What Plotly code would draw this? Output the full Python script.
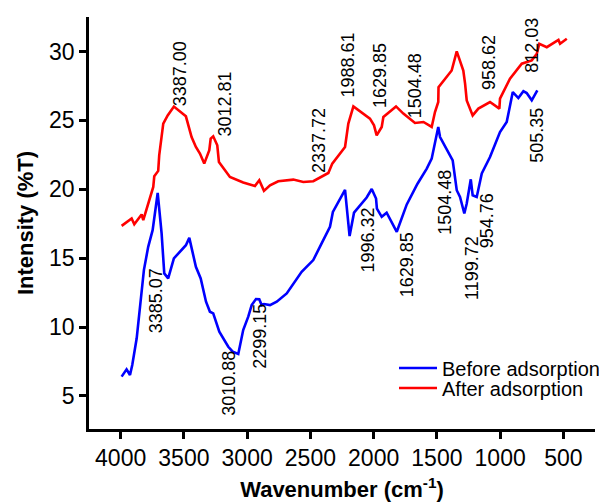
import plotly.graph_objects as go

# Before adsorption (blue)
before_x = [3992, 3953, 3926, 3908, 3873, 3847, 3816, 3782, 3747, 3707, 3676, 3655, 3624, 3579,
            3518, 3484, 3457, 3405, 3367, 3325, 3294, 3268, 3220, 3149, 3114, 3070, 3031, 2991,
            2964, 2930, 2904, 2885, 2867, 2819, 2766, 2687, 2569, 2477, 2411, 2345, 2322, 2226,
            2190, 2155, 2055, 2015, 1981, 1974, 1936, 1897, 1817, 1738, 1653, 1580, 1541, 1489,
            1475, 1422, 1375, 1343, 1317, 1283, 1264, 1232, 1217, 1185, 1145, 1080, 1006, 1001,
            948, 900, 856, 816, 790, 750, 706]
before_y = [6.40, 6.93, 6.52, 7.25, 9.18, 11.23, 14.13, 15.82, 17.03, 19.73, 16.79, 13.89, 13.53, 14.98,
            15.58, 15.94, 16.47, 14.37, 13.53, 11.84, 11.11, 10.99, 9.66, 8.57, 8.21, 8.04, 9.78, 10.75,
            11.59, 12.03, 12.01, 11.59, 11.67, 11.59, 11.84, 12.44, 14.01, 14.86, 16.07, 17.27, 18.35, 19.95,
            16.60, 18.30, 19.40, 20.02, 19.33, 18.60, 18.00, 18.30, 16.91, 18.90, 20.40, 21.50, 22.22, 24.52,
            23.79, 22.95, 22.10, 19.93, 19.44, 18.24, 18.96, 20.72, 19.56, 19.44, 21.14, 22.34, 23.91, 24.15,
            24.88, 27.05, 26.62, 27.12, 26.98, 26.45, 27.17]

# After adsorption (red)
after_x = [3992, 3913, 3892, 3834, 3821, 3768, 3742, 3734, 3703, 3695, 3681, 3663, 3628, 3579,
           3484, 3439, 3405, 3373, 3339, 3299, 3288, 3268, 3236, 3223, 3175, 3136, 3031, 2938,
           2904, 2867, 2819, 2754, 2635, 2556, 2477, 2358, 2327, 2226, 2200, 2160, 2029, 1997,
           1976, 1936, 1923, 1823, 1765, 1673, 1606, 1541, 1515, 1489, 1487, 1436, 1383, 1343,
           1291, 1277, 1264, 1217, 1172, 1080, 1006, 1001, 922, 829, 750, 710, 690, 631, 539,
           526, 473]
after_y = [17.34, 17.88, 17.46, 18.17, 17.75, 19.44, 20.17, 20.94, 21.33, 22.46, 23.31, 24.76, 25.36, 26.00,
           25.29, 23.79, 23.07, 22.59, 21.86, 22.83, 23.67, 23.84, 23.19, 21.98, 21.38, 20.89, 20.49, 20.24,
           20.65, 19.88, 20.29, 20.58, 20.70, 20.53, 20.58, 21.18, 21.86, 23.07, 24.76, 26.01, 25.12, 24.64,
           23.91, 24.52, 25.24, 26.01, 25.49, 24.81, 24.88, 24.52, 25.60, 26.33, 27.41, 28.02, 28.62, 30.00,
           28.62, 27.66, 26.45, 25.36, 25.85, 26.33, 25.85, 26.57, 28.02, 29.11, 29.35, 29.83, 30.56, 30.31, 30.84,
           30.56, 30.92]

# Peak labels for the red curve (placed above)
after_label_x = [3533, 3175, 2432, 2200, 1950, 1673, 1088, 744]
after_label_y = [25.96, 23.79, 21.14, 26.57, 25.85, 25.12, 27.17, 28.38]
after_label_text = ["3387.00", "3012.81", "2337.72", "1988.61", "1629.85", "1504.48", "958.62", "812.03"]

# Peak labels for the blue curve (placed below)
before_label_x = [3723, 3149, 2898, 2044, 1736, 1438, 1224, 1106, 708]
before_label_y = [14.35, 8.33, 11.72, 18.72, 16.91, 21.50, 16.67, 19.80, 25.96]
before_label_text = ["3385.07", "3010.88", "2299.15", "1996.32", "1629.85", "1504.48", "1199.72", "954.76", "505.35"]

x_ticks = [4000, 3500, 3000, 2500, 2000, 1500, 1000, 500]
y_ticks = [5, 10, 15, 20, 25, 30]

FONT = "Arial, Liberation Sans, sans-serif"

fig = go.Figure()
fig.add_trace(go.Scatter(x=before_x, y=before_y, mode="lines", name="Before adsorption",
                         line=dict(color="#0000FF", width=2.6), legend="legend"))
fig.add_trace(go.Scatter(x=after_x, y=after_y, mode="lines", name="After adsorption",
                         line=dict(color="#FF0000", width=2.6), legend="legend2"))

annotations = []
for x, y, t in zip(after_label_x, after_label_y, after_label_text):
    annotations.append(dict(x=x, y=y, text=t, showarrow=False, textangle=-90,
                            xanchor="center", yanchor="bottom", borderpad=0,
                            font=dict(family=FONT, size=18, color="black")))
for x, y, t in zip(before_label_x, before_label_y, before_label_text):
    annotations.append(dict(x=x, y=y, text=t, showarrow=False, textangle=-90,
                            xanchor="center", yanchor="top", borderpad=0,
                            font=dict(family=FONT, size=18, color="black")))

W, H = 599, 502
ml, mr, mt, mb = 89, 4, 17, 73
pw, ph = W - ml - mr, H - mt - mb

def lx(px):
    return (px - ml) / pw

def ly(py):
    return (H - mb - py) / ph

legend_common = dict(xanchor="left", yanchor="middle", bgcolor="rgba(0,0,0,0)",
                     borderwidth=0, font=dict(family=FONT, size=20, color="black"),
                     itemwidth=38)

fig.update_layout(
    width=W, height=H,
    margin=dict(l=ml, r=mr, t=mt, b=mb, autoexpand=False),
    paper_bgcolor="white", plot_bgcolor="white",
    font=dict(family=FONT, color="black"),
    showlegend=True,
    legend=dict(x=lx(394), y=ly(368), **legend_common),
    legend2=dict(x=lx(394), y=ly(388), **legend_common),
    annotations=annotations,
    xaxis=dict(range=[4250, 250], tickvals=x_ticks, ticktext=[str(v) for v in x_ticks],
               showline=True, linecolor="black", linewidth=2.5, ticks="outside",
               ticklen=7, tickwidth=2.5, tickcolor="black", showgrid=False, zeroline=False,
               tickfont=dict(family=FONT, size=23, color="black"),
               title=dict(text="<b>Wavenumber (cm<sup>-1</sup>)</b>", standoff=12,
                          font=dict(family=FONT, size=22, color="black"))),
    yaxis=dict(range=[2.6, 32.5], tickvals=y_ticks, ticktext=[str(v) for v in y_ticks],
               showline=True, linecolor="black", linewidth=2.5, ticks="outside",
               ticklen=7, tickwidth=2.5, tickcolor="black", showgrid=False, zeroline=False,
               tickfont=dict(family=FONT, size=23, color="black"),
               title=dict(text="<b>Intensity (%T)</b>", standoff=10,
                          font=dict(family=FONT, size=22, color="black"))),
)

fig.write_html("out.html")
